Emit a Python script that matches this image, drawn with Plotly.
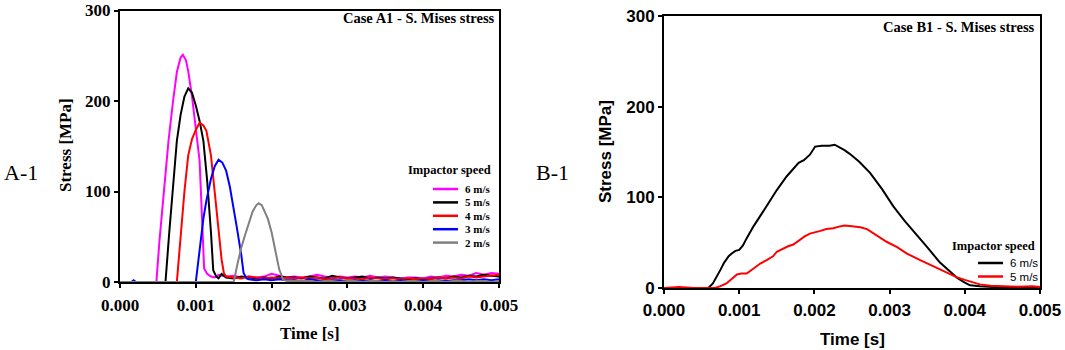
import plotly.graph_objects as go

W, H = 1065, 350

# ---------------- data: Case A1 ----------------
A_M6_T = [0, 0.00048, 0.00052, 0.00058, 0.00064, 0.0007, 0.00075, 0.0008, 0.00083, 0.00087, 0.0009,
          0.00095, 0.001, 0.00105, 0.00108, 0.00111, 0.00115, 0.0012, 0.00125, 0.0013, 0.0014, 0.0015,
          0.0016, 0.0017, 0.0018, 0.0019, 0.002, 0.0021, 0.0022]
A_M6_S = [0, 0, 45, 105, 156, 200, 232, 248, 251, 245, 233,
          205, 172, 134, 75, 15, 9, 6, 5, 8, 6, 7,
          5, 6, 5, 6, 9, 7, 5]

A_M5_T = [0, 0.0006, 0.00065, 0.0007, 0.00075, 0.0008, 0.00085, 0.0009, 0.00095, 0.001, 0.00105,
          0.0011, 0.00115, 0.0012, 0.00123, 0.00127, 0.0013, 0.00134, 0.0014, 0.0015, 0.0016, 0.0017,
          0.0018, 0.0019, 0.002, 0.0021, 0.0022]
A_M5_S = [0, 0, 55, 110, 156, 185, 205, 214, 209, 195, 178,
          156, 112, 55, 13, 6, 4, 9, 5, 4, 6, 5,
          4, 5, 4, 6, 5]

A_M4_T = [0, 0.00075, 0.0008, 0.00085, 0.0009, 0.00095, 0.001, 0.00105, 0.0011, 0.00114, 0.0012,
          0.00125, 0.0013, 0.00134, 0.00137, 0.0014, 0.0015, 0.0016, 0.0017, 0.0018, 0.0019, 0.002,
          0.0021, 0.0022]
A_M4_S = [0, 0, 50, 100, 140, 158, 168, 176, 173, 167, 140,
          101, 60, 25, 10, 6, 5, 4, 6, 5, 4, 5,
          4, 5]

A_M3_T = [0, 0.00015, 0.00018, 0.00021, 0.001, 0.00105, 0.0011, 0.00114, 0.0012, 0.00125, 0.0013,
          0.00135, 0.0014, 0.00145, 0.0015, 0.00154, 0.0016, 0.00163, 0.00167, 0.0017, 0.0018, 0.0019,
          0.002, 0.0021, 0.0022]
A_M3_S = [0, 0, 2, 0, 0, 35, 70, 90, 114, 128, 135,
          132, 123, 105, 82, 61, 30, 10, 4, 3, 2, 3,
          2, 3, 2]

A_M2_T = [0, 0.0015, 0.00155, 0.0016, 0.00165, 0.0017, 0.00175, 0.0018, 0.00183, 0.00187, 0.0019,
          0.00195, 0.002, 0.00205, 0.0021, 0.00215, 0.0022]
A_M2_S = [0, 0, 20, 38, 52, 65, 78, 85, 87, 85, 80,
          70, 55, 35, 14, 3, 1]

TAIL_T = [0.0023, 0.0024, 0.0025, 0.0026, 0.0027, 0.0028, 0.0029, 0.0030, 0.0031, 0.0032,
          0.0033, 0.0034, 0.0035, 0.0036, 0.0037, 0.0038, 0.0039, 0.0040, 0.0041, 0.0042,
          0.0043, 0.0044, 0.0045, 0.0046, 0.0047, 0.0048, 0.0049, 0.0050]
TAIL_M6 = [6, 5, 6, 8, 6, 5, 6, 5, 6, 5, 7, 5, 6, 5, 4, 5, 5, 4, 6, 5, 7, 6, 8, 7, 10, 8, 10, 9]
TAIL_M5 = [5, 4, 6, 5, 4, 7, 5, 4, 5, 6, 4, 5, 4, 5, 4, 3, 4, 3, 4, 5, 4, 6, 5, 7, 6, 8, 7, 6]
TAIL_M4 = [4, 5, 4, 5, 3, 4, 5, 4, 4, 3, 5, 4, 3, 4, 3, 4, 3, 4, 3, 5, 4, 5, 4, 6, 5, 6, 7, 8]
TAIL_M3 = [2, 1, 3, 2, 1, 2, 2, 1, 2, 1, 2, 1, 2, 1, 2, 1, 1, 2, 1, 2, 1, 2, 2, 3, 2, 3, 2, 3]
TAIL_M2 = [1, 1, 1, 0, 1, 1, 0, 1, 1, 0, 1, 1, 0, 1, 0, 1, 1, 0, 1, 1, 0, 1, 1, 0, 1, 1, 0, 1]

A_LABELS = ["6 m/s", "5 m/s", "4 m/s", "3 m/s", "2 m/s"]
A_COLORS = ["#ff00ff", "#000000", "#ff0000", "#0000ff", "#808080"]

# ---------------- data: Case B1 ----------------
B_6_T = [0, 0.0002, 0.0004, 0.00059, 0.00065, 0.0007, 0.00075, 0.0008, 0.00086, 0.0009, 0.00095,
         0.001, 0.00105, 0.0011, 0.00119, 0.0013, 0.00141, 0.0015, 0.00163, 0.0017, 0.00179, 0.00186,
         0.00194, 0.00201, 0.0021, 0.0022, 0.00227, 0.0024, 0.00247, 0.0026, 0.00274, 0.0029, 0.00305,
         0.0032, 0.00336, 0.0035, 0.00367, 0.00385, 0.0039, 0.004, 0.00407, 0.0042, 0.0044, 0.0046,
         0.0048, 0.005]
B_6_S = [0, 0, 0, 0, 5, 12, 20, 28, 35, 38, 41,
         42, 47, 55, 68, 82, 97, 108, 123, 130, 138, 141,
         147, 156, 157, 157, 158, 152, 148, 139, 127, 109, 90,
         74, 59, 45, 28, 14, 11, 6, 3, 2, 1, 1,
         1, 1]

B_5_T = [0, 0.0002, 0.0004, 0.0006, 0.00068, 0.00075, 0.00083, 0.0009, 0.00097, 0.00103, 0.0011,
         0.0012, 0.00128, 0.00137, 0.00145, 0.0015, 0.00159, 0.00165, 0.00172, 0.0018, 0.00187,
         0.00194, 0.002, 0.00208, 0.00216, 0.00225, 0.00234, 0.0024, 0.0025, 0.00261, 0.0027,
         0.00285, 0.00296, 0.0031, 0.00323, 0.0034, 0.00358, 0.0037, 0.00389, 0.004, 0.00411,
         0.0042, 0.00434, 0.0045, 0.0047, 0.0049, 0.005]
B_5_S = [0, 1, 0, 0, 0, 2, 5, 10, 15, 16, 16,
         22, 27, 31, 35, 40, 44, 46, 48, 53, 57,
         60, 61, 63, 65, 66, 68, 69, 68, 67, 65,
         57, 51, 45, 38, 31, 24, 19, 12, 9, 6,
         4, 2.5, 2, 1.5, 2, 1]

B_LABELS = ["6 m/s", "5 m/s"]
B_COLORS = ["#000000", "#ff0000"]

X_TICKS = [0, 0.001, 0.002, 0.003, 0.004, 0.005]
X_TICKTEXT = ["0.000", "0.001", "0.002", "0.003", "0.004", "0.005"]
Y_TICKS = [0, 100, 200, 300]
Y_TICKTEXT = ["0", "100", "200", "300"]


def px(x):
    return x / W


def py(y):
    return 1 - y / H


SERIF = "Liberation Serif, Times New Roman, serif"
SANS = "Liberation Sans, Arial, sans-serif"

fig = go.Figure()

a_series = [
    (A_M6_T + TAIL_T, A_M6_S + TAIL_M6),
    (A_M5_T + TAIL_T, A_M5_S + TAIL_M5),
    (A_M4_T + TAIL_T, A_M4_S + TAIL_M4),
    (A_M3_T + TAIL_T, A_M3_S + TAIL_M3),
    (A_M2_T + TAIL_T, A_M2_S + TAIL_M2),
]
for (t, s), name, col in zip(a_series, A_LABELS, A_COLORS):
    fig.add_trace(go.Scatter(x=t, y=s, mode="lines", name=name, showlegend=False,
                             line=dict(color=col, width=2), xaxis="x", yaxis="y"))

for (t, s), name, col in zip([(B_6_T, B_6_S), (B_5_T, B_5_S)], B_LABELS, B_COLORS):
    fig.add_trace(go.Scatter(x=t, y=s, mode="lines", name=name, showlegend=False,
                             line=dict(color=col, width=2), xaxis="x2", yaxis="y2"))


def xaxis(domain, fam, anchor, standoff):
    return dict(domain=domain, range=[0, 0.005], anchor=anchor, tickmode="array",
                tickvals=X_TICKS, ticktext=X_TICKTEXT, showline=True, linecolor="black",
                linewidth=2, mirror=True, ticks="outside", ticklen=4, tickwidth=2,
                tickcolor="black", showgrid=False, zeroline=False, automargin=False,
                ticklabeloverflow="allow", ticklabelstandoff=standoff,
                tickfont=dict(family=fam, size=17, color="black", weight="bold"))


def yaxis(domain, fam, anchor):
    return dict(domain=domain, range=[0, 300], anchor=anchor, tickmode="array",
                tickvals=Y_TICKS, ticktext=Y_TICKTEXT, showline=True, linecolor="black",
                linewidth=2, mirror=True, ticks="outside", ticklen=4, tickwidth=2,
                tickcolor="black", showgrid=False, zeroline=False, automargin=False,
                ticklabeloverflow="allow",
                tickfont=dict(family=fam, size=17, color="black", weight="bold"))


annotations = []
shapes = []


def text(x, y, s, fam, size, bold=False, xanchor="center", angle=0):
    annotations.append(dict(x=px(x), y=py(y), xref="paper", yref="paper", text=s,
                            showarrow=False, xanchor=xanchor, yanchor="middle",
                            textangle=angle,
                            font=dict(family=fam, size=size, color="black",
                                      weight="bold" if bold else "normal")))


# panel A
text(2, 173, "A-1", SERIF, 22, xanchor="left")
text(310, 333, "Time [s]", SERIF, 17, True)
text(65, 145, "Stress [MPa]", SERIF, 17, True, angle=-90)
text(497, 18, "Case A1 - S. Mises stress", SERIF, 14.5, True, xanchor="right")
text(493, 170, "Impactor speed", SERIF, 12.5, True, xanchor="right")
for i, (lab, col) in enumerate(zip(A_LABELS, A_COLORS)):
    yy = 189 + i * 13.4
    shapes.append(dict(type="line", xref="paper", yref="paper", x0=px(433), x1=px(458),
                       y0=py(yy), y1=py(yy), line=dict(color=col, width=2.5)))
    text(463, yy, lab, SERIF, 11, True, xanchor="left")

# panel B
text(552, 173, "B-1", SERIF, 22)
text(852, 339, "Time [s]", SANS, 17, True)
text(605, 152, "Stress [MPa]", SANS, 17, True, angle=-90)
text(1037, 27, "Case B1 - S. Mises stress", SERIF, 14.5, True, xanchor="right")
text(1037, 246, "Impactor speed", SERIF, 12.5, True, xanchor="right")
for i, (lab, col) in enumerate(zip(B_LABELS, B_COLORS)):
    yy = 263 + i * 13.5
    shapes.append(dict(type="line", xref="paper", yref="paper", x0=px(978), x1=px(1003),
                       y0=py(yy), y1=py(yy), line=dict(color=col, width=2.5)))
    text(1008, yy, lab, SANS, 11.5, False, xanchor="left")

fig.update_layout(
    width=W, height=H,
    margin=dict(l=0, r=0, t=0, b=0, autoexpand=False),
    paper_bgcolor="white", plot_bgcolor="white",
    xaxis=xaxis([px(120), px(499)], SERIF, "y", 3),
    yaxis=yaxis([py(282), py(10.5)], SERIF, "x"),
    xaxis2=xaxis([px(664), px(1040)], SANS, "y2", 2),
    yaxis2=yaxis([py(288), py(16)], SANS, "x2"),
    annotations=annotations,
    shapes=shapes,
    showlegend=False,
    hovermode=False,
)

# remove the browser's default 8px page margin so the figure starts at the window corner
fig.write_html("out.html",
               config={"displayModeBar": False, "staticPlot": True},
               post_script="document.body.style.margin='0';document.body.style.overflow='hidden';")
